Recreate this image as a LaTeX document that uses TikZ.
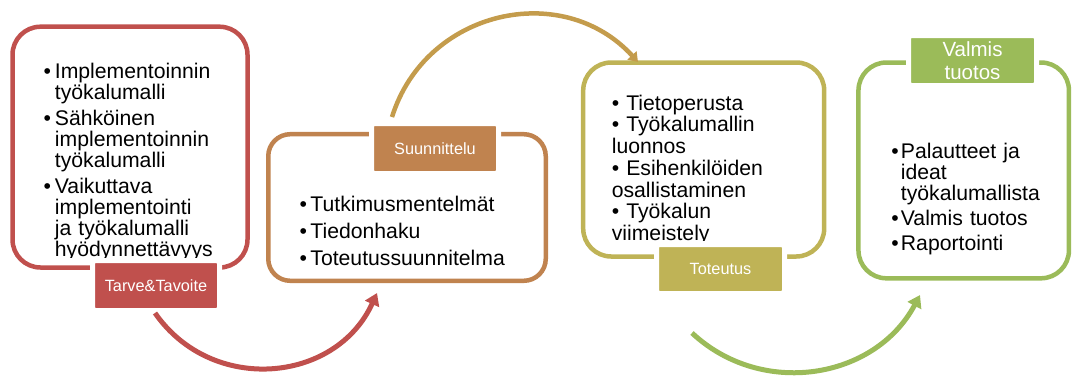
\documentclass[tikz,border=0pt]{standalone}
\usepackage{fontspec}
\setmainfont{Liberation Sans}
\usetikzlibrary{arrows.meta}
\definecolor{cred}{HTML}{C0504D}
\definecolor{corange}{HTML}{C0834F}
\definecolor{cgold}{HTML}{C49C4C}
\definecolor{colive}{HTML}{BFB356}
\definecolor{cgreen}{HTML}{9BBB59}
\newcommand\bulbox[1]{\makebox[#1][l]{•}}
\newcommand\hangsp[1]{\hspace*{#1}}
\begin{document}
\begin{tikzpicture}[x=1pt,y=1pt,
  frame/.style={draw, line width=4.5pt, rounded corners=28pt, inner sep=0pt},
  tag/.style={draw=white, line width=5pt, rounded corners=3pt, inner sep=0pt,
    text=white, font=\fontsize{16.3}{18}\selectfont, align=center},
  body/.style={anchor=north west, inner sep=0pt, text width=260pt, align=left,
    text=black, execute at begin node={\lineskiplimit=-100pt\lineskip=0pt}},
  flow/.style={line width=5pt, -{Triangle[width=15pt,length=12pt]}}]
\useasboundingbox (0,0) rectangle (1073,-376);

% frames
\node[frame, draw=cred, minimum width=235pt, minimum height=240.8pt] (b1) at (130,-147.1) {};
\node[frame, draw=corange, rounded corners=22pt, minimum width=277.5pt, minimum height=146.6pt] (b2) at (407,-207.5) {};
\node[frame, draw=colive, minimum width=241pt, minimum height=194pt] (b3) at (703.7,-159.5) {};
\node[frame, draw=cgreen, minimum width=210.5pt, minimum height=215.8pt] (b4) at (963.7,-170.4) {};

% texts
\begin{scope}
\clip (0,0) rectangle (260,-257);
\node[body, font=\fontsize{21.2}{20.9}\selectfont] (t1) at (43.4,-58)
 {\rule{0pt}{20pt}\bulbox{11.3pt}Implementoinnin\\
  \hangsp{11.3pt}työkalumalli\\[5.6pt]
  \bulbox{11.3pt}Sähköinen\\
  \hangsp{11.3pt}implementoinnin\\
  \hangsp{11.3pt}työkalumalli\\[5.6pt]
  \bulbox{11.3pt}Vaikuttava\\
  \hangsp{11.3pt}implementointi\\
  \hangsp{11.3pt}ja työkalumalli\\
  \hangsp{11.3pt}hyödynnettävyys};
\end{scope}

\node[body, font=\fontsize{21.2}{20.9}\selectfont] (t2) at (299.4,-191.7)
 {\rule{0pt}{20pt}\bulbox{10.8pt}Tutkimusmentelmät\\[5.8pt]
  \bulbox{10.8pt}Tiedonhaku\\[5.8pt]
  \bulbox{10.8pt}Toteutussuunnitelma};

\begin{scope}
\clip (560,0) rectangle (840,-240.5);
\node[body, font=\fontsize{21.2}{21.7}\selectfont] (t3) at (611.6,-90)
 {\rule{0pt}{20pt}• Tietoperusta\\
  • Työkalumallin\\
  luonnos\\
  • Esihenkilöiden\\
  osallistaminen\\
  • Työkalun\\
  viimeistely};
\end{scope}

\node[body, font=\fontsize{21.2}{21}\selectfont] (t4) at (891.2,-138)
 {\rule{0pt}{20pt}\bulbox{9.5pt}Palautteet ja\\
  \hangsp{9.5pt}ideat\\
  \hangsp{9.5pt}työkalumallista\\[4pt]
  \bulbox{9.5pt}Valmis tuotos\\[4pt]
  \bulbox{9.5pt}Raportointi};

% labels
\node[tag, fill=cred, minimum width=127pt, minimum height=50pt] (l1) at (156,-285.5) {Tarve\&Tavoite};
\node[tag, fill=corange, minimum width=127pt, minimum height=50pt] (l2) at (435,-148.5) {Suunnittelu};
\node[tag, fill=colive, minimum width=128pt, minimum height=49pt] (l3) at (720.5,-269) {Toteutus};
\node[tag, fill=cgreen, minimum width=128pt, minimum height=50pt, font=\fontsize{20.5}{22.5}\selectfont] (l4) at (972.5,-60.5) {Valmis\\tuotos};

% arrows
\coordinate (a1s) at (155,-313);
\coordinate (a1e) at (377,-293);
\coordinate (a2s) at (392,-117);
\coordinate (a2e) at (638,-62);
\coordinate (a3s) at (692,-333);
\coordinate (a3e) at (920,-295);
\draw[flow, color=cred] (a1s) to[out=304.8, in=245.5, looseness=1.139] (a1e);
\draw[flow, color=cgold, line width=4.5pt, -{Triangle[width=12pt,length=9pt]}] (a2s) to[out=72.6, in=132.5, looseness=1.136] (a2e);
\draw[flow, color=cgreen] (a3s) to[out=317, in=241.9, looseness=1.058] (a3e);
\end{tikzpicture}
\end{document}
